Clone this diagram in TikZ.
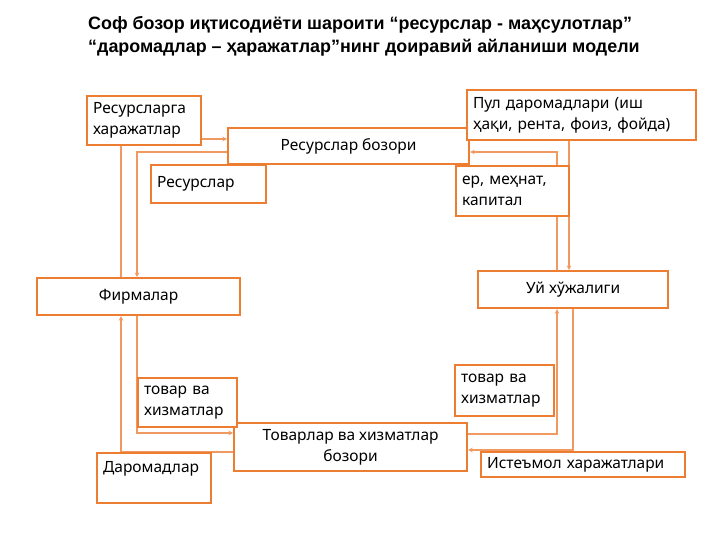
\documentclass[tikz,border=0pt]{standalone}
\usepackage{fontspec}
\setmainfont{Noto Sans}
\newfontfamily\titlefont{Liberation Sans}
\usetikzlibrary{arrows.meta}
\pgfdeclarelayer{background}
\pgfsetlayers{background,main}
\definecolor{boxorange}{HTML}{ED7D31}
\definecolor{lineorange}{HTML}{F09A62}

\begin{document}
\begin{tikzpicture}
[x=1pt,y=-1pt,
  boxDecorate/.style={draw=boxorange,line width=2.2pt,fill=white,anchor=north west,
    inner xsep=6pt,inner ysep=5pt,font=\fontsize{15.5}{21}\selectfont},
  centreBox/.style={boxDecorate,align=center},
  labelBox/.style={boxDecorate,align=left},
  flowLine/.style={draw=lineorange,line width=1.5pt,-{Stealth[length=4.5pt,width=4.5pt]}}]
\useasboundingbox (0,0) rectangle (720,540);
%% title
\node (title) at (88,16) [anchor=north west,align=left,inner sep=0pt,
  font=\titlefont\bfseries\fontsize{17.9}{23.5}\selectfont]
  {Соф бозор иқтисодиёти шароити “ресурслар - маҳсулотлар”\\
   “даромадлар – ҳаражатлар”нинг доиравий айланиши модели};
%% markets and sectors
\node (rb) at (227,127) [centreBox,minimum width=241pt,minimum height=36pt] {Ресурслар бозори};
\node (firms) at (36,277) [centreBox,minimum width=203pt,minimum height=37pt] {Фирмалар};
\node (hh) at (477,270) [centreBox,minimum width=190pt,minimum height=37pt] {Уй хўжалиги};
\node (gm) at (233,422) [centreBox,minimum width=233pt,minimum height=48pt]
  {Товарлар ва хизматлар\\бозори};
%% flow labels
\foreach \nodename/\x/\y/\w/\h/\txt in {
  rh/86/95/102/49/{Ресурсларга\\харажатлар},
  pul/466/89/217/50/{Пул даромадлари (иш\\ҳақи, рента, фоиз, фойда)},
  res/150/164/103/38/{Ресурслар},
  emk/455/165/101/50/{ер, меҳнат,\\капитал},
  tvl/137/377/87/49/{товар ва\\хизматлар},
  tvr/454/364/87/51/{товар ва\\хизматлар},
  ist/480/451/192/25/{Истеъмол харажатлари}}
{
  \node (\nodename) at (\x,\y) [labelBox,text width=\w pt,minimum height=\h pt] {\txt};
}
\node (dar) at (96,452) [labelBox,text width=102pt,text height=14pt,text depth=26pt] {Даромадлар};
%% flows
\begin{pgfonlayer}{background}
\fill[white] (0,0) rectangle (720,540);
\draw[flowLine] ([xshift=85pt]firms.north west) |- ([yshift=-12pt]rb.north west);
\draw[flowLine] ([yshift=-25pt]rb.north west) -| ([xshift=101pt]firms.north west);
\draw[flowLine] ([yshift=-13pt]rb.north east) -| ([xshift=92pt]hh.north west);
\draw[flowLine] ([xshift=80pt]hh.north west) |- ([yshift=-25pt]rb.north east);
\draw[flowLine] ([yshift=-30pt]gm.north west) -| ([xshift=85pt]firms.south west);
\draw[flowLine] ([xshift=101pt]firms.south west) |- ([yshift=-11pt]gm.north west);
\draw[flowLine] ([yshift=-12pt]gm.north east) -| ([xshift=80pt]hh.south west);
\draw[flowLine] ([xshift=96pt]hh.south west) |- ([yshift=-28pt]gm.north east);
\end{pgfonlayer}
\end{tikzpicture}
\end{document}
